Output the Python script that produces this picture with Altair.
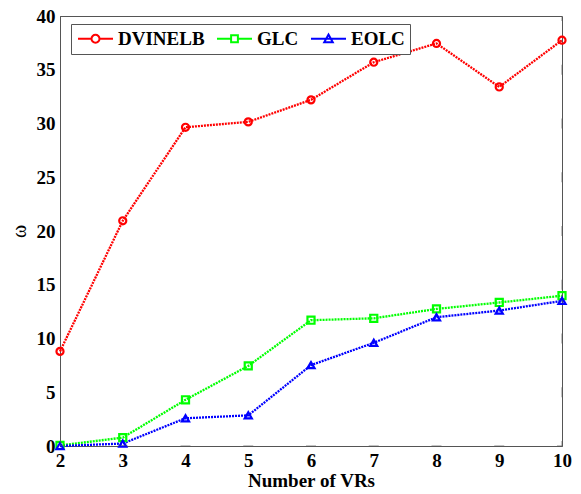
import altair as alt
import pandas as pd

# ---- data ----
x_vals = [2, 3, 4, 5, 6, 7, 8, 9, 10]
dvinelb = [8.8, 20.95, 29.65, 30.15, 32.2, 35.7, 37.45, 33.4, 37.75]
glc = [0.05, 0.78, 4.3, 7.45, 11.7, 11.88, 12.75, 13.35, 13.98]
eolc = [0.0, 0.23, 2.58, 2.85, 7.52, 9.6, 11.98, 12.6, 13.5]
series_names = ["DVINELB", "GLC", "EOLC"]
series_colors = ["#ff0000", "#00ff00", "#0000ff"]
series_shapes = ["circle", "square", "triangle-up"]
x_ticks = [2, 3, 4, 5, 6, 7, 8, 9, 10]
y_ticks = [0, 5, 10, 15, 20, 25, 30, 35, 40]

# legend symbols: dotted line with marker (custom SVG paths)
legend_paths = [
    "M-2.06,0H-0.47M0.47,0H2.06M-0.47,0A0.47,0.47,0,1,0,0.47,0A0.47,0.47,0,1,0,-0.47,0Z",
    "M-2.06,0H-0.4M0.4,0H2.06M-0.4,-0.4H0.4V0.4H-0.4Z",
    "M-2.06,0H2.06M0,-0.5L0.5,0.4H-0.5Z",
]

rows = []
for name, vals in zip(series_names, [dvinelb, glc, eolc]):
    for xv, yv in zip(x_vals, vals):
        rows.append({"x": xv, "y": yv, "series": name})
df = pd.DataFrame(rows)

W, H = 502, 430
FONT = "'Liberation Serif', 'Times New Roman', serif"
AX = "#555555"

xs = alt.Scale(domain=[2, 10], nice=False)
ys = alt.Scale(domain=[0, 40], nice=False)

x_enc = alt.X("x:Q", scale=xs, axis=alt.Axis(
    values=x_ticks, title="Number of VRs", grid=False, ticks=False, labelFlush=False,
    domainColor=AX, labelFont=FONT, labelFontSize=19, labelFontWeight="bold",
    labelColor="black", labelPadding=5, titleFont=FONT, titleFontSize=19,
    titleFontWeight="bold", titleColor="black", titlePadding=1, format="d"))
y_enc = alt.Y("y:Q", scale=ys, axis=alt.Axis(
    values=y_ticks, title="ω", grid=False, ticks=False, labelFlush=False,
    domainColor=AX, labelFont=FONT, labelFontSize=19, labelFontWeight="bold",
    labelColor="black", labelPadding=5, titleFont=FONT, titleFontSize=20,
    titleFontWeight="normal", titleColor="black", titlePadding=7, format="d"))

color_scale = alt.Scale(domain=series_names, range=series_colors)

base = alt.Chart(df)
lines = base.mark_line(strokeDash=[2, 1], strokeWidth=2.3).encode(
    x=x_enc, y=y_enc,
    color=alt.Color("series:N", scale=color_scale, legend=None))
points = base.mark_point(filled=False, strokeWidth=2.2, size=50, opacity=1).encode(
    x=x_enc, y=y_enc,
    color=alt.Color("series:N", scale=color_scale, legend=None),
    shape=alt.Shape("series:N", scale=alt.Scale(domain=series_names, range=series_shapes), legend=None))

# inward ticks on all four sides (clipped ticks)
xt = pd.DataFrame({"t": x_ticks})
yt = pd.DataFrame({"t": y_ticks})
tick_style = dict(clip=True, size=10, thickness=1, color=AX)
xtick_bottom = alt.Chart(xt).mark_tick(orient="horizontal", **tick_style).encode(
    x=alt.X("t:Q", scale=xs), y=alt.datum(0, scale=ys))
xtick_top = alt.Chart(xt).mark_tick(orient="horizontal", **tick_style).encode(
    x=alt.X("t:Q", scale=xs), y=alt.datum(40, scale=ys))
ytick_left = alt.Chart(yt).mark_tick(orient="vertical", **tick_style).encode(
    y=alt.Y("t:Q", scale=ys), x=alt.datum(2, scale=xs))
ytick_right = alt.Chart(yt).mark_tick(orient="vertical", **tick_style).encode(
    y=alt.Y("t:Q", scale=ys), x=alt.datum(10, scale=xs))

legend_props = dict(
    orient="none", legendX=11, legendY=8, direction="horizontal", title=None,
    symbolSize=289, symbolStrokeWidth=2, symbolOpacity=1, symbolOffset=10,
    labelOffset=13, labelFont=FONT, labelFontSize=19, labelFontWeight="bold",
    labelColor="black", fillColor="white", strokeColor=AX, padding=5,
    columnPadding=7)
leg_df = pd.DataFrame({"series": series_names})
legend_layer = alt.Chart(leg_df).mark_point(filled=False, opacity=0).encode(
    x=alt.value(0), y=alt.value(0),
    color=alt.Color("series:N", scale=alt.Scale(domain=series_names, range=series_colors),
                    legend=alt.Legend(**legend_props)),
    shape=alt.Shape("series:N", scale=alt.Scale(domain=series_names, range=legend_paths),
                    legend=alt.Legend(**legend_props)))

chart = alt.layer(
    lines, points, xtick_bottom, xtick_top, ytick_left, ytick_right, legend_layer
).resolve_scale(color="independent", shape="independent").properties(
    width=W, height=H,
    autosize=alt.AutoSizeParams(type="none"),
    padding={"left": 60, "top": 16, "right": 19, "bottom": 48},
    background="white",
).configure_view(stroke=AX, strokeWidth=1)

chart.save("out.html", embed_options={"renderer": "svg", "actions": False})
